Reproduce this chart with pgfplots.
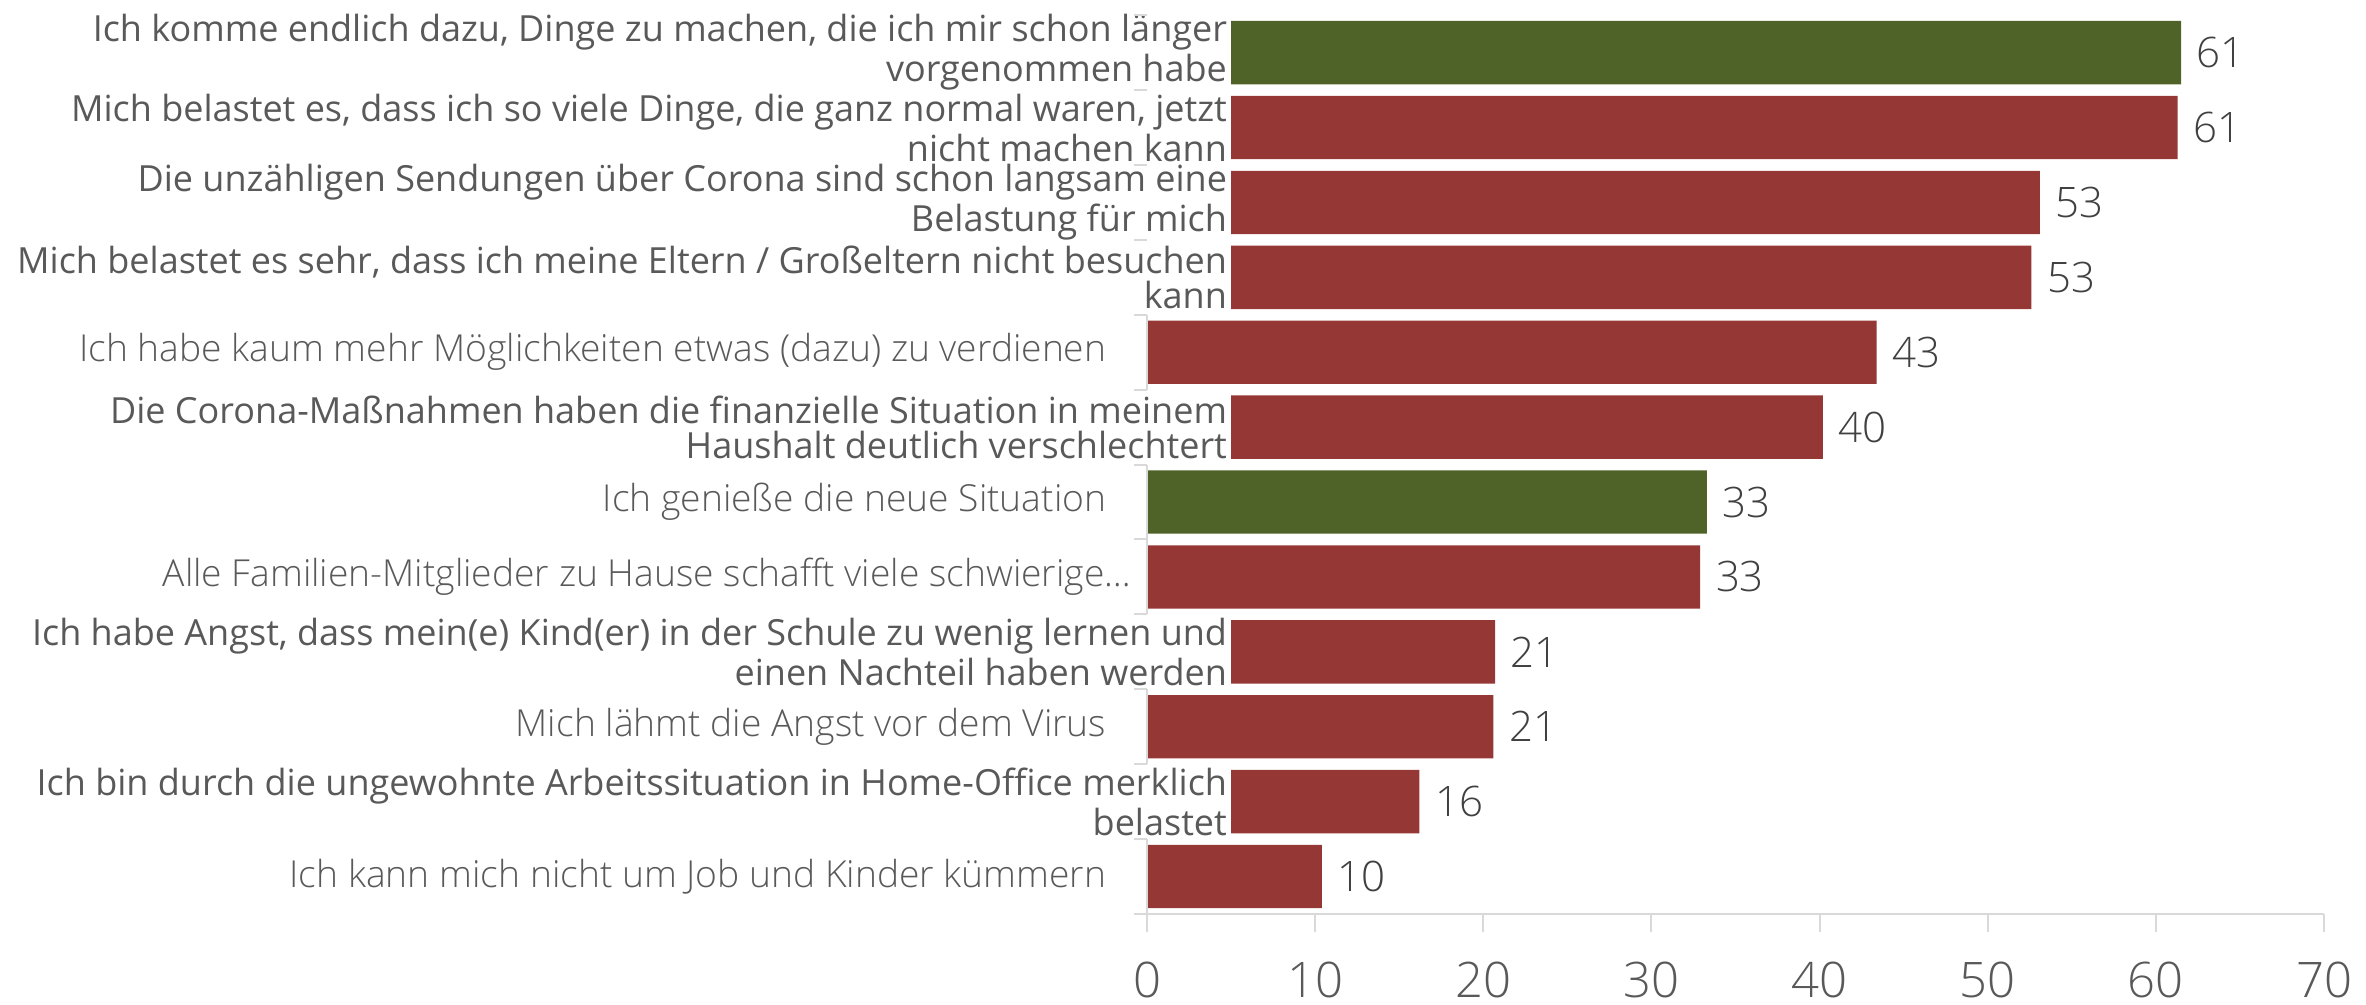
\documentclass[border=0pt]{standalone}
\usepackage{pgfplots}
\pgfplotsset{compat=1.18}
\usepackage{pgfplotstable}
\usepackage{fontspec}
\setmainfont{Open Sans}
\IfFontExistsTF{Open Sans Light}
  {\newfontfamily\lightfont{Open Sans Light}\definecolor{lighttext}{HTML}{595959}}
  {\newfontfamily\lightfont{Open Sans}\definecolor{lighttext}{HTML}{7A7A7A}}
\definecolor{barred}{HTML}{953735}
\definecolor{bargreen}{HTML}{4F6228}
\definecolor{axiscol}{HTML}{D9D9D9}
\definecolor{labcol}{HTML}{595959}
\definecolor{valcol}{HTML}{404040}
\tikzset{
  lab2/.style={anchor=east, align=right, inner sep=0pt, text=labcol,
    font=\fontsize{9}{8.85}\selectfont},
  lab1/.style={anchor=east, inner sep=0pt, text=lighttext,
    font=\lightfont\fontsize{9.3}{9.5}\selectfont},
}
\pgfplotsset{
  common/.style={
    at={(286.75pt,22.75pt)}, anchor=south west,
    scale only axis, width=294.25pt, height=224.7pt,
    xmin=0, xmax=70, ymin=-0.5, ymax=11.5, clip=false,
  },
}

\pgfplotstableread{
y off val grn lbl
11 5 61.5 1 61
10 5 61.3 0 61
9  5 53.1 0 53
8  5 52.6 0 53
7  0 43.4 0 43
6  5 40.2 0 40
5  0 33.3 1 33
4  0 32.9 0 33
3  5 20.7 0 21
2  0 20.6 0 21
1  5 16.2 0 16
0  0 10.4 0 10
}\datatable

\begin{document}
\begin{tikzpicture}
\useasboundingbox (0,0) rectangle (591.5pt,251.25pt);
\begin{axis}[
  common,
  xbar stacked, bar width=0.846,
  axis lines*=left,
  axis line style={draw=axiscol, line width=0.5pt},
  y axis line style={draw=none},
  xtick={0,10,20,30,40,50,60,70}, xticklabels={},
  ytick=\empty,
  tick align=outside, major tick length=4.5pt,
  xtick style={draw=axiscol, line width=0.5pt},
]
% y axis segments (only beside single-line rows) and boundary ticks
\draw[axiscol, line width=0.5pt] (axis cs:0,6.5) -- (axis cs:0,7.5);
\draw[axiscol, line width=0.5pt] (axis cs:0,3.5) -- (axis cs:0,5.5);
\draw[axiscol, line width=0.5pt] (axis cs:0,1.5) -- (axis cs:0,2.5);
\draw[axiscol, line width=0.5pt] (axis cs:0,-0.5) -- (axis cs:0,0.5);
\pgfplotsinvokeforeach{-0.5,0.5,1.5,2.5,3.5,4.5,5.5,6.5,7.5,8.5,9.5,10.5,11.5}{
  \draw[axiscol, line width=0.5pt] (axis cs:0,#1) -- ([xshift=-3.25pt]axis cs:0,#1);
}
% x tick labels
\pgfplotsinvokeforeach{0,10,20,30,40,50,60,70}{
  \node[anchor=base, inner sep=0pt, text=labcol, font=\lightfont\fontsize{12.25}{12.25}\selectfont]
    at (axis cs:#1,-0.5) [yshift=-20.8pt] {#1};
}
% invisible offsets
\addplot[draw=none, fill=none] table[y=y, x=off] {\datatable};
% red bars
\addplot[draw=none, fill=barred] table[y=y, x expr={(1-\thisrow{grn})*(\thisrow{val}-\thisrow{off})}] {\datatable};
% green bars
\addplot[draw=none, fill=bargreen] table[y=y, x expr={\thisrow{grn}*(\thisrow{val}-\thisrow{off})}] {\datatable};

% category labels
\node[lab2] at (axis cs:4.8,11) {Ich komme endlich dazu, Dinge zu machen, die ich mir schon länger\\vorgenommen habe};
\node[lab2] at (axis cs:4.8,10) {Mich belastet es, dass ich so viele Dinge, die ganz normal waren, jetzt\\nicht machen kann};
\node[lab2] at (axis cs:4.8,9) {Die unzähligen Sendungen über Corona sind schon langsam eine\\Belastung für mich};
\node[lab2] at (axis cs:4.8,8) {Mich belastet es sehr, dass ich meine Eltern / Großeltern nicht besuchen\\kann};
\node[lab1] at (axis cs:-2.38,7) {Ich habe kaum mehr Möglichkeiten etwas (dazu) zu verdienen};
\node[lab2] at (axis cs:4.8,6) {Die Corona-Maßnahmen haben die finanzielle Situation in meinem\\Haushalt deutlich verschlechtert};
\node[lab1] at (axis cs:-2.38,5) {Ich genieße die neue Situation};
\node[lab1] at (axis cs:-0.89,4) {Alle Familien-Mitglieder zu Hause schafft viele schwierige\dots};
\node[lab2] at (axis cs:4.8,3) {Ich habe Angst, dass mein(e) Kind(er) in der Schule zu wenig lernen und\\einen Nachteil haben werden};
\node[lab1] at (axis cs:-2.38,2) {Mich lähmt die Angst vor dem Virus};
\node[lab2] at (axis cs:4.8,1) {Ich bin durch die ungewohnte Arbeitssituation in Home-Office merklich\\belastet};
\node[lab1] at (axis cs:-2.38,0) {Ich kann mich nicht um Job und Kinder kümmern};
\end{axis}
% value labels (overlay axis with same geometry, no stacking)
\begin{axis}[common, hide axis]
\addplot[draw=none, mark=none, nodes near coords, point meta=explicit symbolic,
  nodes near coords style={anchor=west, inner sep=0pt, xshift=3.75pt, text=valcol,
    font=\lightfont\fontsize{10.5}{10.5}\selectfont}]
  table[y=y, x=val, meta=lbl] {\datatable};
\end{axis}
\end{tikzpicture}
\end{document}
